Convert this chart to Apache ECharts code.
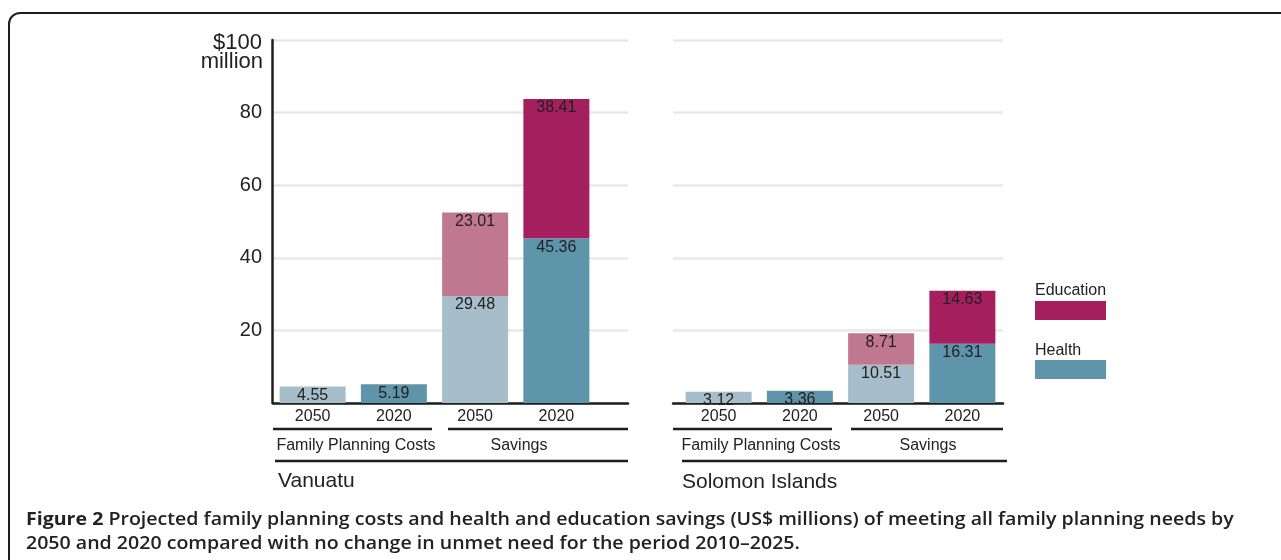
<!DOCTYPE html>
<html><head><meta charset="utf-8">
<script src="https://cdn.jsdelivr.net/npm/echarts@6/dist/echarts.min.js"></script>
<style>html,body{margin:0;padding:0;background:#fff}#c{width:1281px;height:560px}</style>
</head><body><div id="c"></div>
<script>
const categories = ['2050', '2020', '2050', '2020'];
const yTicks = [0, 20, 40, 60, 80, 100];
const vanuatuCosts = [4.55, 5.19];
const vanuatuHealth = [29.48, 45.36];
const vanuatuEducation = [23.01, 38.41];
const solomonCosts = [3.12, 3.36];
const solomonHealth = [10.51, 16.31];
const solomonEducation = [8.71, 14.63];
const groupLabels = ['Family Planning Costs', 'Savings'];
const panelNames = ['Vanuatu', 'Solomon Islands'];
const legendNames = ['Education', 'Health'];
const captionBold = 'Figure 2';
const captionLine1 = ' Projected family planning costs and health and education savings (US$ millions) of meeting all family planning needs by';
const captionLine2 = '2050 and 2020 compared with no change in unmet need for the period 2010\u20132025.';

const C = { hl: '#a6bdca', hd: '#5f95ab', el: '#c07890', ed: '#a51e5e', ink: '#1e1e1e' };
const FONT = 'Liberation Sans, Arial, Helvetica, sans-serif';

const chart = echarts.init(document.getElementById('c'), null, { renderer: 'canvas' });

function bottomData(costs, health) {
  const vals = [costs[0], costs[1], health[0], health[1]];
  return vals.map((v, i) => ({ value: v, itemStyle: { color: i % 2 === 0 ? C.hl : C.hd } }));
}
function topData(edu) {
  const vals = [null, null, edu[0], edu[1]];
  return vals.map((v, i) => ({ value: v, itemStyle: { color: i % 2 === 0 ? C.el : C.ed } }));
}
const label = {
  show: true, position: 'insideTop', distance: 1, color: '#222', fontSize: 16, fontFamily: FONT,
  formatter: p => (p.value == null ? '' : p.value.toFixed(2))
};
const yMin = yTicks[0], yMax = yTicks[yTicks.length - 1], yInt = yTicks[1] - yTicks[0];

function bgX(g) { return { gridIndex: g, type: 'value', min: 0, max: 1, axisLine: { show: true, onZero: false, lineStyle: { color: C.ink, width: 2.5 } }, axisTick: { show: false }, axisLabel: { show: false }, splitLine: { show: false } }; }
function barX(g) { return { gridIndex: g, type: 'category', data: categories, axisLine: { show: false }, axisTick: { show: false }, axisLabel: { color: '#222', fontSize: 16, fontFamily: FONT, margin: 6 } }; }
function bgY(g) { return { gridIndex: g, type: 'value', min: yMin, max: yMax, interval: yInt, axisLine: { show: false }, axisTick: { show: false }, axisLabel: { show: false }, splitLine: { show: true, lineStyle: { color: '#e8e8e8', width: 2.5 } } }; }

const line = (x1, y1, x2, y2) => ({ type: 'line', shape: { x1, y1, x2, y2 }, style: { stroke: C.ink, lineWidth: 2.5 }, silent: true });
const txt = (x, y, text, size, align) => ({ type: 'text', x, y, style: { text, fill: '#222', font: size + 'px ' + FONT, textAlign: align || 'center', textVerticalAlign: 'middle' }, silent: true });

const option = {
  animation: false,
  backgroundColor: '#fff',
  grid: [
    { left: 273, top: 40, width: 355, height: 363 },
    { left: 272, top: 40, width: 325, height: 363 },
    { left: 673, top: 40, width: 330, height: 363 },
    { left: 678, top: 40, width: 325, height: 363 }
  ],
  xAxis: [bgX(0), barX(1), bgX(2), barX(3)],
  yAxis: [
    bgY(0),
    { gridIndex: 1, type: 'value', min: yMin, max: yMax, interval: yInt,
      axisLine: { show: true, lineStyle: { color: C.ink, width: 2.5 } }, axisTick: { show: false }, splitLine: { show: false },
      axisLabel: { color: '#222', fontSize: 20, fontFamily: FONT, margin: 10,
        formatter: v => (v === yMin ? '' : (v === yMax ? '{t|$' + v + '}' : String(v))),
        rich: { t: { fontSize: 22, fontFamily: FONT, color: '#222', padding: [6, 0, 0, 0] } } } },
    bgY(2),
    { gridIndex: 3, type: 'value', min: yMin, max: yMax, interval: yInt, axisLine: { show: false }, axisTick: { show: false }, axisLabel: { show: false }, splitLine: { show: false } }
  ],
  series: [
    { name: 'Health', type: 'bar', xAxisIndex: 1, yAxisIndex: 1, stack: 'v', barWidth: 66, data: bottomData(vanuatuCosts, vanuatuHealth), label },
    { name: 'Education', type: 'bar', xAxisIndex: 1, yAxisIndex: 1, stack: 'v', barWidth: 66, data: topData(vanuatuEducation), label },
    { name: 'Health', type: 'bar', xAxisIndex: 3, yAxisIndex: 3, stack: 's', barWidth: 66, data: bottomData(solomonCosts, solomonHealth), label },
    { name: 'Education', type: 'bar', xAxisIndex: 3, yAxisIndex: 3, stack: 's', barWidth: 66, data: topData(solomonEducation), label }
  ],
  graphic: [
    { type: 'rect', shape: { x: 9, y: 13, width: 1400, height: 700, r: 11 }, style: { fill: 'none', stroke: C.ink, lineWidth: 2 }, silent: true },
    txt(263, 62, 'million', 22, 'right'),
    line(273, 429, 432, 429), line(448, 429, 628, 429), line(275, 461, 628, 461),
    line(673, 429, 832, 429), line(851, 429, 1003, 429), line(682, 461, 1007, 461),
    txt(356, 446, groupLabels[0], 16), txt(519, 446, groupLabels[1], 16),
    txt(761, 446, groupLabels[0], 16), txt(928, 446, groupLabels[1], 16),
    txt(278, 481, panelNames[0], 21, 'left'), txt(682, 482, panelNames[1], 21, 'left'),
    txt(1035, 291, legendNames[0], 16, 'left'),
    { type: 'rect', shape: { x: 1035, y: 301, width: 71, height: 19 }, style: { fill: C.ed }, silent: true },
    txt(1035, 351, legendNames[1], 16, 'left'),
    { type: 'rect', shape: { x: 1035, y: 360, width: 71, height: 19 }, style: { fill: C.hd }, silent: true },
    { type: 'text', x: 26, y: 520, scaleX: 1.087, silent: true,
      style: { text: '{b|' + captionBold + '}' + captionLine1, fill: '#222', font: '600 18px Open Sans', textVerticalAlign: 'middle',
        rich: { b: { fontWeight: 'bold', fontSize: 18, fontFamily: 'Open Sans', fill: '#222' } } } },
    { type: 'text', x: 26, y: 544, scaleX: 1.087, silent: true,
      style: { text: captionLine2, fill: '#222', font: '600 18px Open Sans', textVerticalAlign: 'middle' } }
  ]
};
chart.setOption(option);
</script>
</body></html>
